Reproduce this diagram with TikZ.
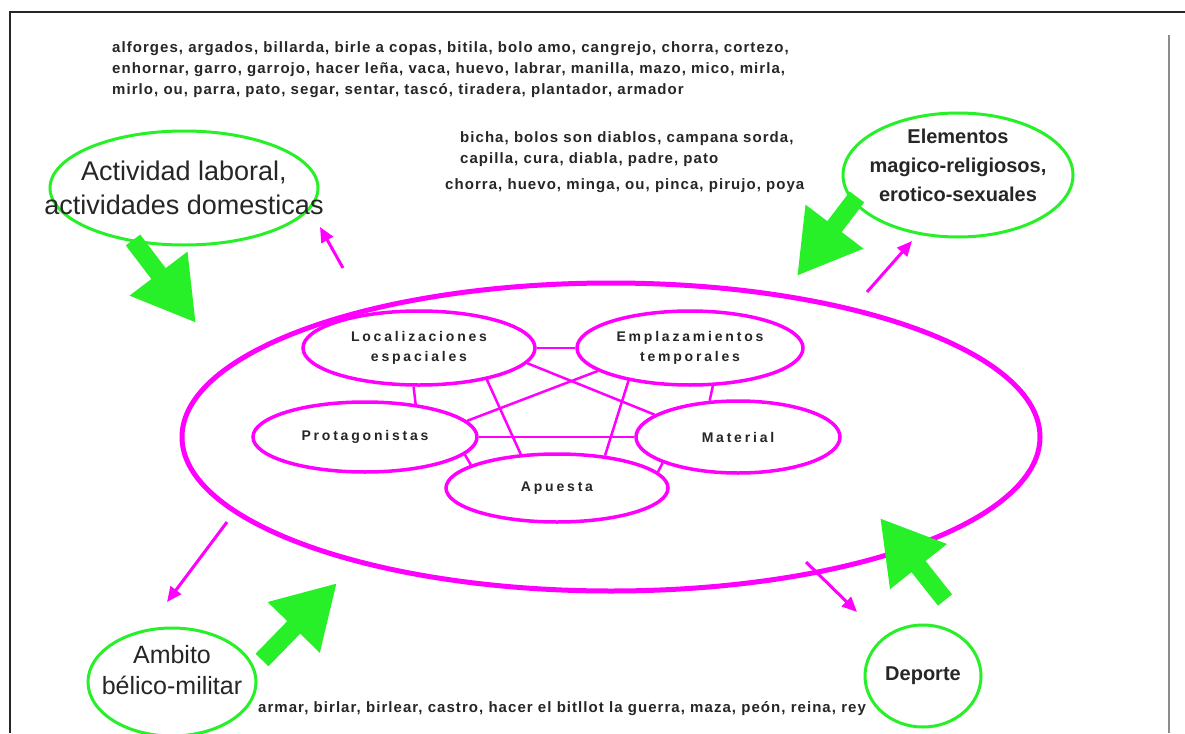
\documentclass[tikz,border=0pt]{standalone}
\usepackage{fontspec}
\setmainfont{Liberation Sans}
\newfontfamily\spaced[LetterSpace=20.0]{Liberation Sans}
\newfontfamily\listfont[LetterSpace=7.0]{Liberation Sans}
\usetikzlibrary{arrows.meta,shapes.geometric,backgrounds}
\definecolor{lime}{RGB}{40,240,40}
\definecolor{mag}{RGB}{255,0,255}
\tikzset{
  wordlist/.style={font=\listfont\fontsize{15}{21}\selectfont\bfseries, align=left, inner sep=0pt, text=black!85},
  biglabel/.style={font=\fontsize{25}{31}\selectfont, align=center, inner sep=0pt, text=black!85},
  boldlabel/.style={font=\fontsize{20}{29}\selectfont\bfseries, align=center, inner sep=0pt, text=black!85},
  topic/.style={ellipse, draw=lime, line width=3pt, inner sep=0pt},
  outer/.style={ellipse, draw=mag, line width=5pt, inner sep=0pt},
  facet/.style={ellipse, draw=mag, line width=3.5pt, fill=white, inner sep=0pt,
    font=\spaced\fontsize{14}{20}\selectfont\bfseries, align=center, text=black!85},
  link/.style={draw=mag, line width=2.5pt},
  influence/.style={draw=lime, line width=18pt, -{Triangle[length=62pt,width=68pt]}},
  projection/.style={draw=mag, line width=3pt, -{Triangle[length=15pt,width=13pt]}}
}
\begin{document}
\begin{tikzpicture}[x=1pt,y=-1pt]
\useasboundingbox (0,0) rectangle (1185,733);

% page frame
\draw[line width=2.5pt, black!85] (10,733) -- (10,12) -- (1185,12);
\draw[line width=2pt, black!45] (1169,35) -- (1169,733);

% central ellipse with its five facets
\node[outer, minimum width=858pt, minimum height=308pt] (core) at (611,437) {};
\node[facet, minimum width=232pt, minimum height=74pt] (loc) at (419,348) {Localizaciones\\espaciales};
\node[facet, minimum width=226pt, minimum height=74pt] (emp) at (690,348) {Emplazamientos\\temporales};
\node[facet, minimum width=224pt, minimum height=70pt] (pro) at (365,437) {Protagonistas};
\node[facet, minimum width=204pt, minimum height=72pt] (mat) at (738,437) {Material};
\node[facet, minimum width=222pt, minimum height=68pt] (apu) at (557,488) {Apuesta};

\begin{scope}[on background layer]
  \fill[white] (0,0) rectangle (1185,733);
  \draw[link] (loc.east) -- (emp.west);
  \draw[link] (loc.-98) -- (pro.33);
  \draw[link] (emp.-59) -- (mat.128);
  \draw[link] (pro.east) -- (mat.west);
  \draw[link] (loc.-25) -- (apu.137);
  \draw[link] (emp.-152) -- (apu.34);
  \draw[link] (loc.-8) -- (mat.165);
  \draw[link] (emp.-166) -- (pro.9);
  \draw[link] (pro.-10) -- (apu.165);
  \draw[link] (mat.-161) -- (apu.9);
\end{scope}

% surrounding domains
\node[topic, minimum width=268pt, minimum height=114pt] (act) at (184,188) {};
\node[biglabel, font=\fontsize{27}{34}\selectfont] at (act.center) {Actividad laboral,\\actividades domesticas};
\node[topic, minimum width=230pt, minimum height=124pt] (ele) at (958,175) {};
\node[boldlabel] at ([yshift=10pt]ele.center) {Elementos\\magico-religiosos,\\erotico-sexuales};
\node[topic, minimum width=168pt, minimum height=108pt] (amb) at (172,682) {};
\node[biglabel] at ([yshift=12pt]amb.center) {Ambito\\bélico-militar};
\node[topic, minimum width=116pt, minimum height=102pt] (dep) at (923,676) {};
\node[boldlabel] at (dep.center) {Deporte};

% word lists
\node[wordlist, anchor=north west] (w1) at (112,41)
  {alforges, argados, billarda, birle a copas, bitila, bolo amo, cangrejo, chorra, cortezo,\\
   enhornar, garro, garrojo, hacer leña, vaca, huevo, labrar, manilla, mazo, mico, mirla,\\
   mirlo, ou, parra, pato, segar, sentar, tascó, tiradera, plantador, armador};
\node[wordlist, anchor=north west] (w2) at (460,131)
  {bicha, bolos son diablos, campana sorda,\\capilla, cura, diabla, padre, pato};
\node[wordlist, anchor=north west] (w3) at (445,178)
  {chorra, huevo, minga, ou, pinca, pirujo, poya};
\node[wordlist, anchor=north west] (w4) at (258,701)
  {armar, birlar, birlear, castro, hacer el bitllot la guerra, maza, peón, reina, rey};

% influences flowing into the core
\coordinate (actT) at (133,240); \coordinate (actH) at (196,323);
\coordinate (eleT) at (857,197); \coordinate (eleH) at (797,276);
\coordinate (ambT) at (262,660); \coordinate (ambH) at (337,583);
\coordinate (depT) at (945,600); \coordinate (depH) at (880,518);
\draw[influence] (actT) -- (actH);
\draw[influence] (eleT) -- (eleH);
\draw[influence] (ambT) -- (ambH);
\draw[influence] (depT) -- (depH);

% projections from the core outwards
\coordinate (p1T) at (343,268); \coordinate (p1H) at (320,227);
\coordinate (p2T) at (867,292); \coordinate (p2H) at (912,241);
\coordinate (p3T) at (227,522); \coordinate (p3H) at (167,602);
\coordinate (p4T) at (806,562); \coordinate (p4H) at (857,612);
\draw[projection] (p1T) -- (p1H);
\draw[projection] (p2T) -- (p2H);
\draw[projection] (p3T) -- (p3H);
\draw[projection] (p4T) -- (p4H);
\end{tikzpicture}
\end{document}
